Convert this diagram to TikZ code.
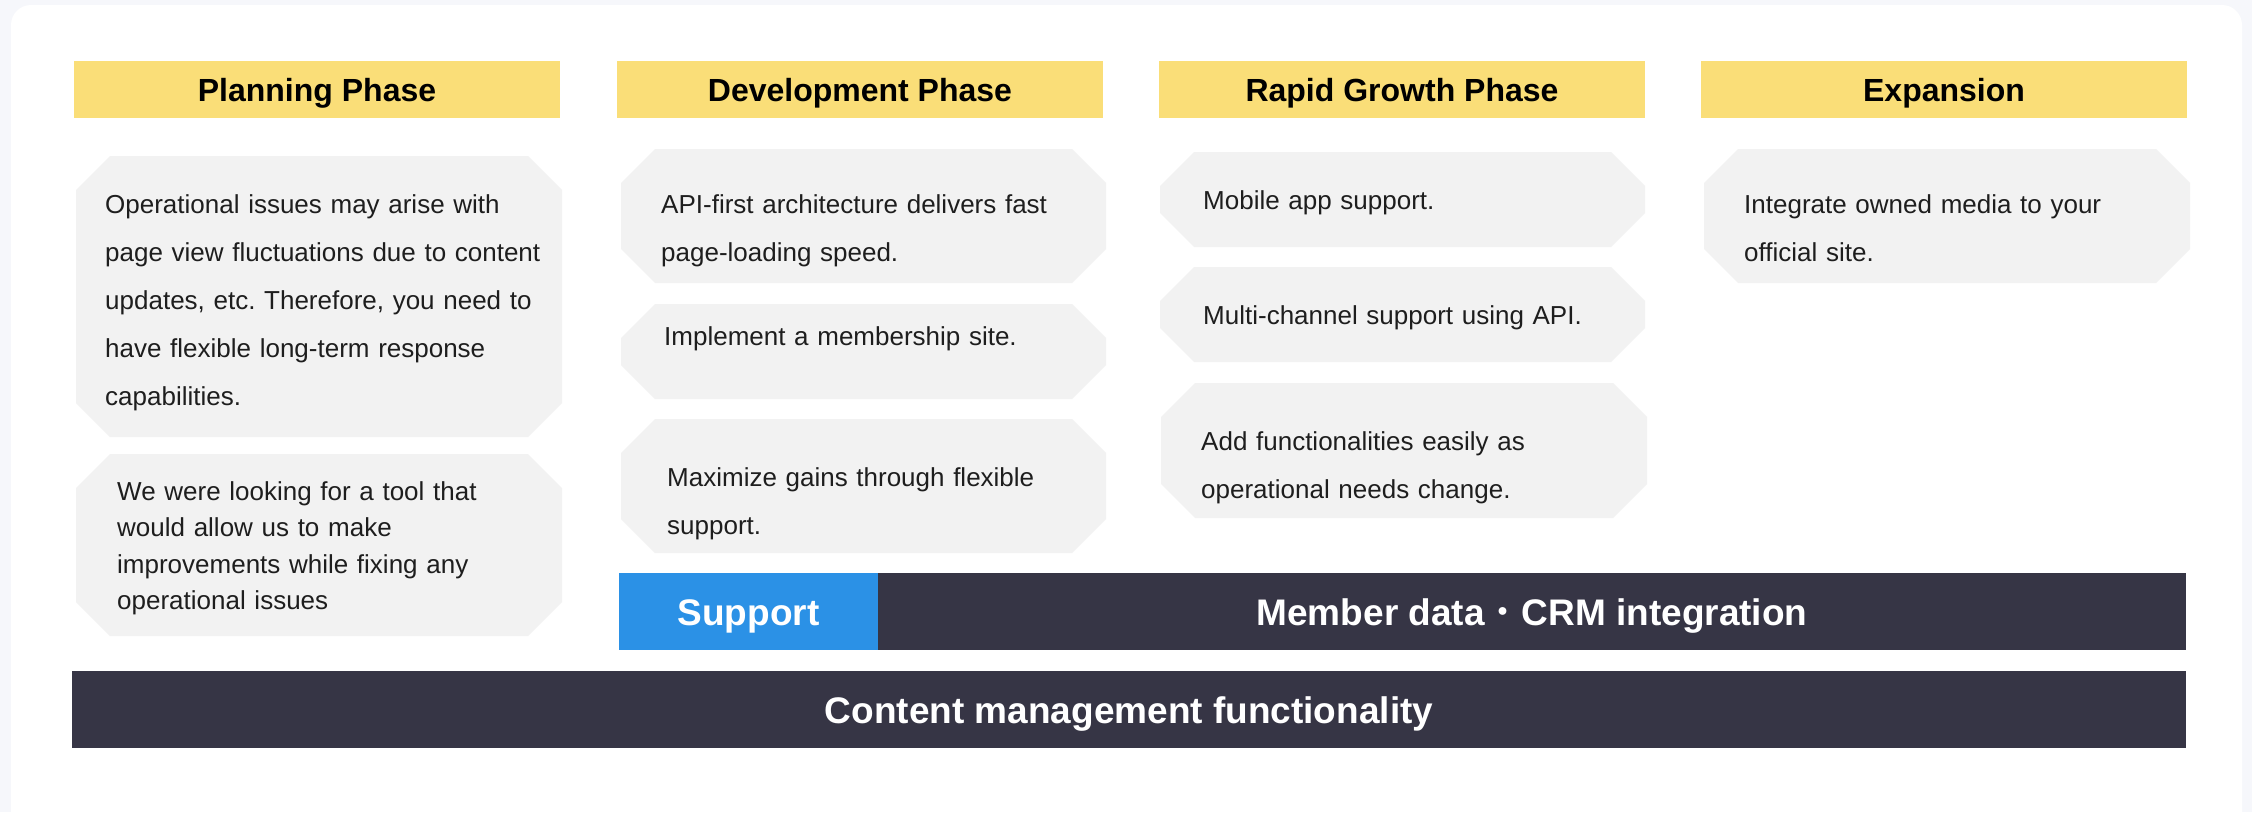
\documentclass[tikz,border=0pt]{standalone}
\usepackage{fontspec}
\setmainfont{Liberation Sans}
\newfontfamily\cjkfont{Noto Sans CJK JP}
\frenchspacing
\definecolor{pagebg}{HTML}{F6F7FB}
\definecolor{hdryellow}{HTML}{FADE78}
\definecolor{boxgray}{HTML}{F2F2F2}
\definecolor{darkbar}{HTML}{363545}
\definecolor{supblue}{HTML}{2B91E6}
\definecolor{bodytext}{HTML}{1E1E1E}
\newcommand\octbox[4]{\fill[boxgray] (#1+34,#2) -- (#3-34,#2) -- (#3,#2+34) -- (#3,#4-34) -- (#3-34,#4) -- (#1+34,#4) -- (#1,#4-34) -- (#1,#2+34) -- cycle;}
\tikzset{
  hdr/.style={fill=hdryellow, minimum width=486pt, minimum height=57pt, inner sep=0pt,
    text height=23pt, text depth=0pt, font=\fontsize{32}{38}\selectfont\bfseries, text=black},
  barnode/.style={minimum height=77pt, inner sep=0pt, text height=27pt, text depth=0pt,
    font=\fontsize{37}{44}\selectfont\bfseries, text=white},
  bodytxt/.style={anchor=base west, inner sep=0pt, text width=600pt, align=left,
    text=bodytext, font=\fontsize{26}{48}\selectfont},
  tighttxt/.style={bodytxt, font=\fontsize{26}{36.5}\selectfont}
}
\begin{document}
\begin{tikzpicture}[x=1pt,y=-1pt]
\useasboundingbox (0,0) rectangle (2252,812);
\fill[pagebg] (0,0) rectangle (2252,812);
\clip (0,0) rectangle (2252,812);
\fill[white, rounded corners=20pt] (11,5) rectangle (2242,900);

% headers
\node[hdr] (h1) at (317,89.5) {Planning Phase};
\node[hdr] (h2) at (860,89.5) {Development Phase};
\node[hdr] (h3) at (1402,89.5) {Rapid Growth Phase};
\node[hdr] (h4) at (1944,89.5) {Expansion};

% boxes
\octbox{76}{156}{562}{437}
\octbox{76}{454}{562}{636}
\octbox{621}{149}{1106}{283}
\octbox{621}{304}{1106}{399}
\octbox{621}{419}{1106}{553}
\octbox{1160}{152}{1645}{247}
\octbox{1160}{267}{1645}{362}
\octbox{1161}{383}{1647}{518}
\octbox{1704}{149}{2190}{283}

% texts
\node[bodytxt] (p1) at (105,213) {Operational issues may arise with\\page view fluctuations due to content\\updates, etc. Therefore, you need to\\have flexible long-term response\\capabilities.};
\node[tighttxt] (p2) at (117,500) {We were looking for a tool that\\would allow us to make\\improvements while fixing any\\operational issues};
\node[bodytxt] (d1) at (661,213) {API-first architecture delivers fast\\page-loading speed.};
\node[bodytxt] (d2) at (664,345) {Implement a membership site.};
\node[bodytxt] (d3) at (667,486) {Maximize gains through flexible\\support.};
\node[bodytxt] (r1) at (1203,209) {Mobile app support.};
\node[bodytxt] (r2) at (1203,324) {Multi-channel support using API.};
\node[bodytxt] (r3) at (1201,450) {Add functionalities easily as\\operational needs change.};
\node[bodytxt] (e1) at (1744,213) {Integrate owned media to your\\official site.};

% bottom bars
\node[barnode, fill=supblue, minimum width=259pt] (sup) at (748.5,611.5) {Support};
\node[barnode, fill=darkbar, minimum width=1308pt] (mem) at (1532,611.5) {Member data{\cjkfont\mdseries ・}CRM integration};
\node[barnode, fill=darkbar, minimum width=2114pt] (cms) at (1129,709.5) {Content management functionality};
\end{tikzpicture}
\end{document}
